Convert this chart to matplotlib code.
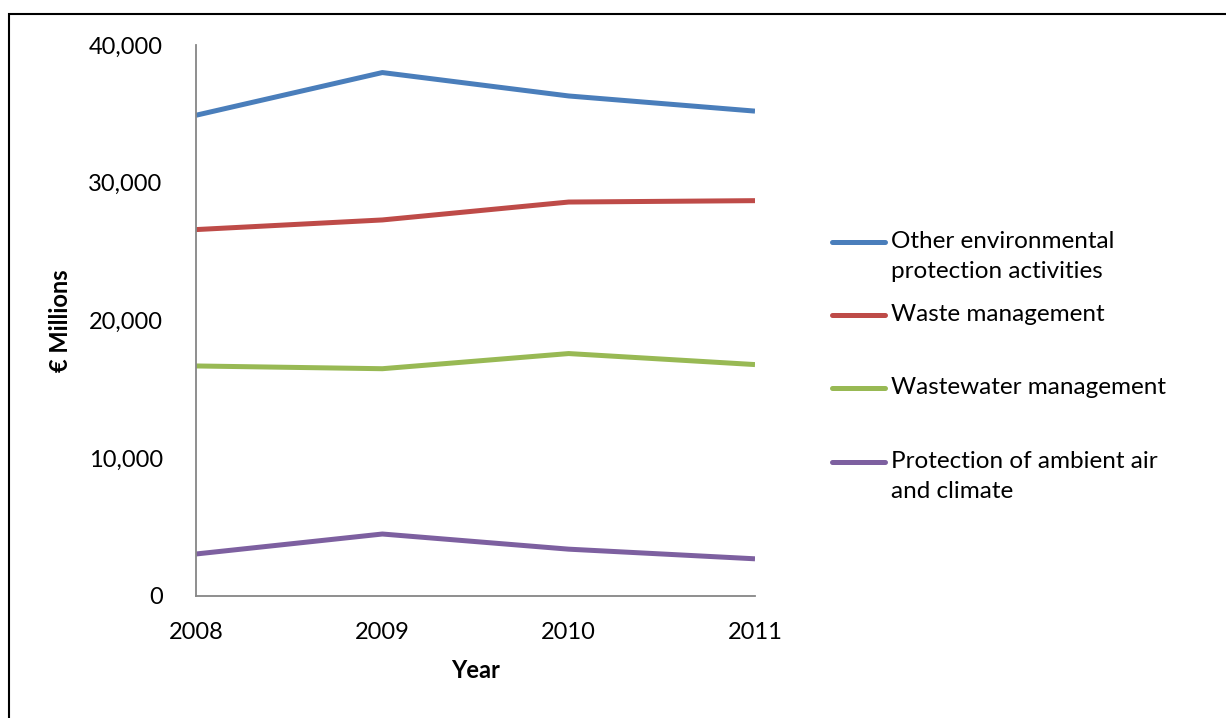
import matplotlib.pyplot as plt
from matplotlib.lines import Line2D
from matplotlib.patches import Rectangle
from matplotlib.ticker import FuncFormatter

plt.rcParams["font.family"] = ["Lato", "DejaVu Sans"]

# ---------------------------------------------------------------------------
# Data (EUR millions)
# ---------------------------------------------------------------------------
years = ["2008", "2009", "2010", "2011"]
other_env = [34900, 38000, 36300, 35200]
waste = [26600, 27300, 28600, 28700]
wastewater = [16700, 16500, 17600, 16800]
air_climate = [3050, 4500, 3400, 2700]

labels = [
    "Other environmental\nprotection activities",
    "Waste management",
    "Wastewater management",
    "Protection of ambient air\nand climate",
]
colors = ["#4A7EBB", "#BE4B48", "#98B954", "#7D60A0"]
series = [other_env, waste, wastewater, air_climate]

W, H = 1226, 718
fig = plt.figure(figsize=(W / 100, H / 100), dpi=100)
ax = fig.add_axes([196 / W, 1 - 596 / H, (755 - 196) / W, (596 - 45) / H])

x = list(range(len(years)))
for vals, col in zip(series, colors):
    ax.plot(x, vals, color=col, lw=3.6, solid_capstyle="butt")

ax.set_xlim(0, len(years) - 1)
ax.set_ylim(0, 40000)
ax.set_xticks(x)
ax.set_xticklabels(years)
ax.set_yticks(range(0, 40001, 10000))
ax.yaxis.set_major_formatter(FuncFormatter(lambda v, p: f"{int(v):,}"))
ax.tick_params(length=0, labelsize=17, colors="black")
ax.tick_params(axis="y", pad=24)
ax.tick_params(axis="x", pad=19)

for s in ("top", "right"):
    ax.spines[s].set_visible(False)
for s in ("left", "bottom"):
    ax.spines[s].set_color("#868686")
    ax.spines[s].set_linewidth(1.3)

ax.set_ylabel("€ Millions", fontsize=17, fontweight="bold", labelpad=12)
ax.set_xlabel("Year", fontsize=17, fontweight="bold", labelpad=11)

# legend drawn by hand so the swatch lines up with the first text line
leg_y = [242, 315, 388, 462]
for yy, col, lab in zip(leg_y, colors, labels):
    fy = 1 - yy / H
    fig.add_artist(Line2D([832 / W, 885 / W], [fy, fy], color=col, lw=3.6,
                          solid_capstyle="round", transform=fig.transFigure))
    fig.text(891 / W, fy + 11 / H, lab, fontsize=17.5, va="top", ha="left",
             linespacing=1.5)

# outer frame (only top and left edges visible in the crop)
fig.add_artist(Rectangle((9 / W, -0.1), 1.2, 1 - 14 / H + 0.1,
                         transform=fig.transFigure, fill=False,
                         edgecolor="black", lw=1.5))

fig.savefig("out.png", dpi=100)
